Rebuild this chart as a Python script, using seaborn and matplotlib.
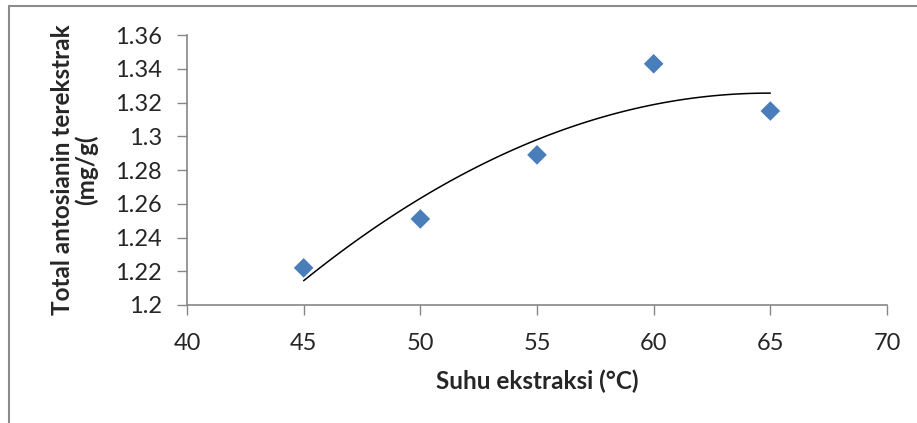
import numpy as np
import pandas as pd
import matplotlib
matplotlib.use("Agg")
import matplotlib.pyplot as plt
from matplotlib.lines import Line2D
import seaborn as sns

# data
suhu = [45, 50, 55, 60, 65]
antosianin = [1.222, 1.251, 1.289, 1.343, 1.315]
x_ticks = [40, 45, 50, 55, 60, 65, 70]
y_ticks = [1.2, 1.22, 1.24, 1.26, 1.28, 1.3, 1.32, 1.34, 1.36]
y_tick_labels = ["1.2", "1.22", "1.24", "1.26", "1.28", "1.3", "1.32", "1.34", "1.36"]

df = pd.DataFrame({"suhu": suhu, "antosianin": antosianin})

sns.set_style("white")
plt.rcParams["font.family"] = ["Lato", "DejaVu Sans"]

fig = plt.figure(figsize=(9.17, 4.23), dpi=100)
ax = fig.add_axes([0.2039, 0.279, 0.7634, 0.638])

# polynomial (order 2) trendline like the Excel one
sns.regplot(data=df, x="suhu", y="antosianin", order=2, ci=None, scatter=False,
            line_kws={"color": "black", "linewidth": 1.1}, ax=ax)
sns.scatterplot(data=df, x="suhu", y="antosianin", marker="D", s=100,
                color="#4a7ebb", edgecolor="none", zorder=3, ax=ax)

ax.set_xlim(40, 70)
ax.set_ylim(1.2, 1.36)
ax.set_xticks(x_ticks)
ax.set_yticks(y_ticks)
ax.set_yticklabels(y_tick_labels)
ax.tick_params(axis="both", labelsize=17, length=7, width=1, color="#868686",
               direction="out", bottom=True, left=True)
ax.tick_params(axis="x", pad=13)
ax.tick_params(axis="y", pad=11)

for side in ["top", "right"]:
    ax.spines[side].set_visible(False)
for side in ["left", "bottom"]:
    ax.spines[side].set_color("#868686")
    ax.spines[side].set_linewidth(1.2)

ax.set_xlabel("Suhu ekstraksi (°C)", fontsize=17.5, fontweight="bold", labelpad=11)
ax.set_ylabel("Total antosianin terekstrak\n(mg/g(", fontsize=17.5,
              fontweight="bold", labelpad=12, linespacing=1.05)

# outer chart-area border (only top and left visible in the crop)
fig.add_artist(Line2D([9 / 917, 1], [1 - 6 / 423, 1 - 6 / 423],
                      transform=fig.transFigure, color="#8c8c8c", linewidth=1.5))
fig.add_artist(Line2D([9 / 917, 9 / 917], [0, 1 - 6 / 423],
                      transform=fig.transFigure, color="#8c8c8c", linewidth=1.5))

fig.savefig("out.png", dpi=100)
